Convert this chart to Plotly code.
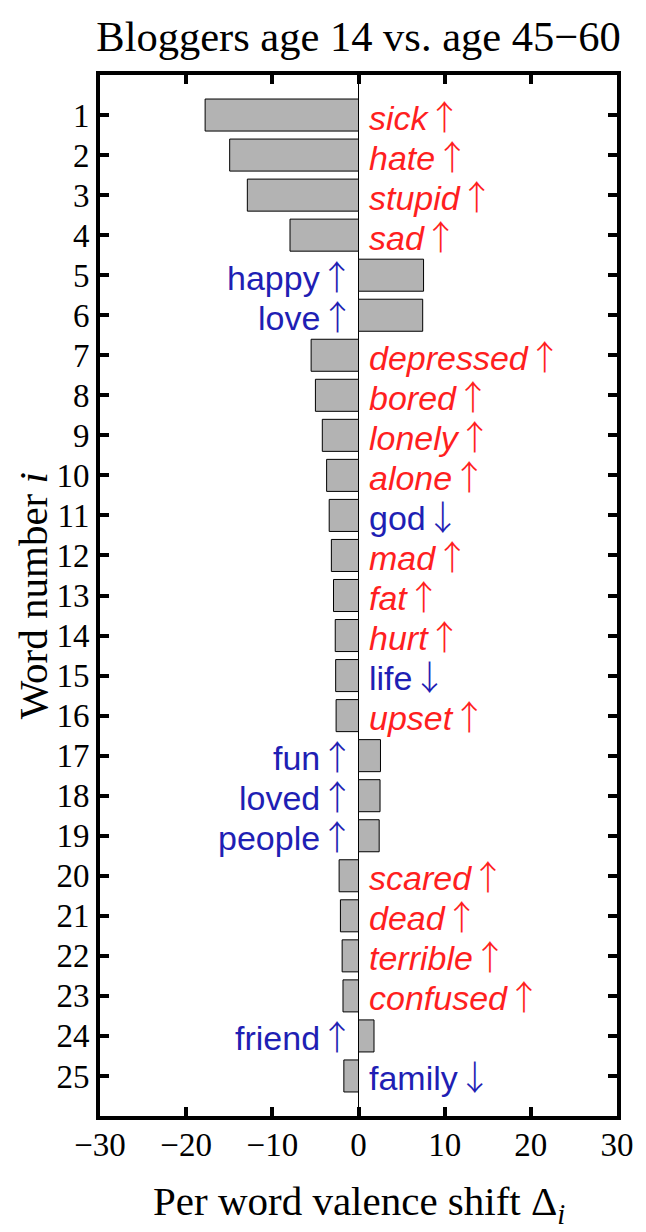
import plotly.graph_objects as go

# ---- data ----
word_rank = list(range(1, 26))
words = ["sick", "hate", "stupid", "sad", "happy", "love", "depressed", "bored",
         "lonely", "alone", "god", "mad", "fat", "hurt", "life", "upset", "fun",
         "loved", "people", "scared", "dead", "terrible", "confused", "friend", "family"]
shift_values = [-17.8, -14.95, -12.9, -7.95, 7.55, 7.45, -5.5, -5.0, -4.2, -3.7,
                -3.4, -3.15, -2.9, -2.7, -2.65, -2.6, 2.55, 2.5, 2.4, -2.25,
                -2.1, -1.9, -1.8, 1.8, -1.7]
# word valence relative to average: "-" negative (red italic), "+" positive (blue)
word_valence = ["-", "-", "-", "-", "+", "+", "-", "-", "-", "-", "+", "-", "-",
                "-", "+", "-", "+", "+", "+", "-", "-", "-", "-", "+", "+"]
# frequency change: "up" used more, "down" used less
freq_change = ["up", "up", "up", "up", "up", "up", "up", "up", "up", "up", "down",
               "up", "up", "up", "down", "up", "up", "up", "up", "up", "up", "up",
               "up", "up", "down"]
x_ticks = [-30, -20, -10, 0, 10, 20, 30]

RED = "#ff1f1f"
BLUE = "#1f1fb4"
SERIF = "Liberation Serif"
SANS = "Liberation Sans"
ARROW_STYLE = "font-family:'Noto Sans CJK SC';font-size:34px;font-weight:300"

fig = go.Figure()
fig.add_trace(go.Bar(
    x=shift_values, y=word_rank, orientation="h", width=0.8,
    marker=dict(color="#b3b3b3", line=dict(color="black", width=1)),
    hoverinfo="skip",
))

annotations = []
for r, w, v, val, fc in zip(word_rank, words, shift_values, word_valence, freq_change):
    arrow = "\u2191" if fc == "up" else "\u2193"
    color = RED if val == "-" else BLUE
    word_txt = f"<i>{w}</i>" if val == "-" else w
    label = f"{word_txt}<span style=\"{ARROW_STYLE}\">{arrow}</span>"
    if v < 0:
        annotations.append(dict(x=0, y=r, xref="x", yref="y", text=label,
                                showarrow=False, xanchor="left", yanchor="middle",
                                xshift=8, font=dict(family=SANS, size=34, color=color)))
    else:
        annotations.append(dict(x=0, y=r, xref="x", yref="y", text=label,
                                showarrow=False, xanchor="right", yanchor="middle",
                                xshift=-3, font=dict(family=SANS, size=34, color=color)))

annotations.append(dict(text="Per word valence shift \u0394<sub><i>i</i></sub>",
                        x=0.5, xref="paper", y=-0.058, yref="paper", yanchor="top",
                        showarrow=False, font=dict(family=SERIF, size=41, color="black")))
annotations.append(dict(text="Word number <i>i</i>", textangle=-90,
                        x=-0.13, xref="paper", xanchor="center", y=0.5, yref="paper",
                        showarrow=False, font=dict(family=SERIF, size=41, color="black")))

fig.update_layout(
    width=646, height=1232,
    margin=dict(l=100, r=18, t=75, b=116),
    paper_bgcolor="white", plot_bgcolor="white",
    showlegend=False,
    title=dict(text="Bloggers age 14 vs. age 45\u221260", x=0.5, xref="paper",
               y=1 - 36 / 1232, yref="container", xanchor="center", yanchor="middle",
               font=dict(family=SERIF, size=42.5, color="black")),
    annotations=annotations,
)
fig.update_xaxes(range=[-30, 30], tickvals=x_ticks, ticks="inside", ticklen=9,
                 tickwidth=4, tickcolor="black", showline=True, linewidth=4,
                 linecolor="black", mirror="ticks", showgrid=False,
                 zeroline=True, zerolinecolor="black", zerolinewidth=1,
                 ticklabelstandoff=-4,
                 tickfont=dict(family=SERIF, size=33, color="black"))
fig.update_yaxes(range=[26, 0], tickvals=word_rank, ticks="inside", ticklen=9,
                 tickwidth=4, tickcolor="black", showline=True, linewidth=4,
                 linecolor="black", mirror="ticks", showgrid=False, zeroline=False,
                 tickfont=dict(family=SERIF, size=33, color="black"))

fig.write_html("out.html", config={"displayModeBar": False},
               post_script="document.body.style.margin='0';"
                           "document.documentElement.style.overflow='hidden';"
                           "document.body.style.overflow='hidden';")
